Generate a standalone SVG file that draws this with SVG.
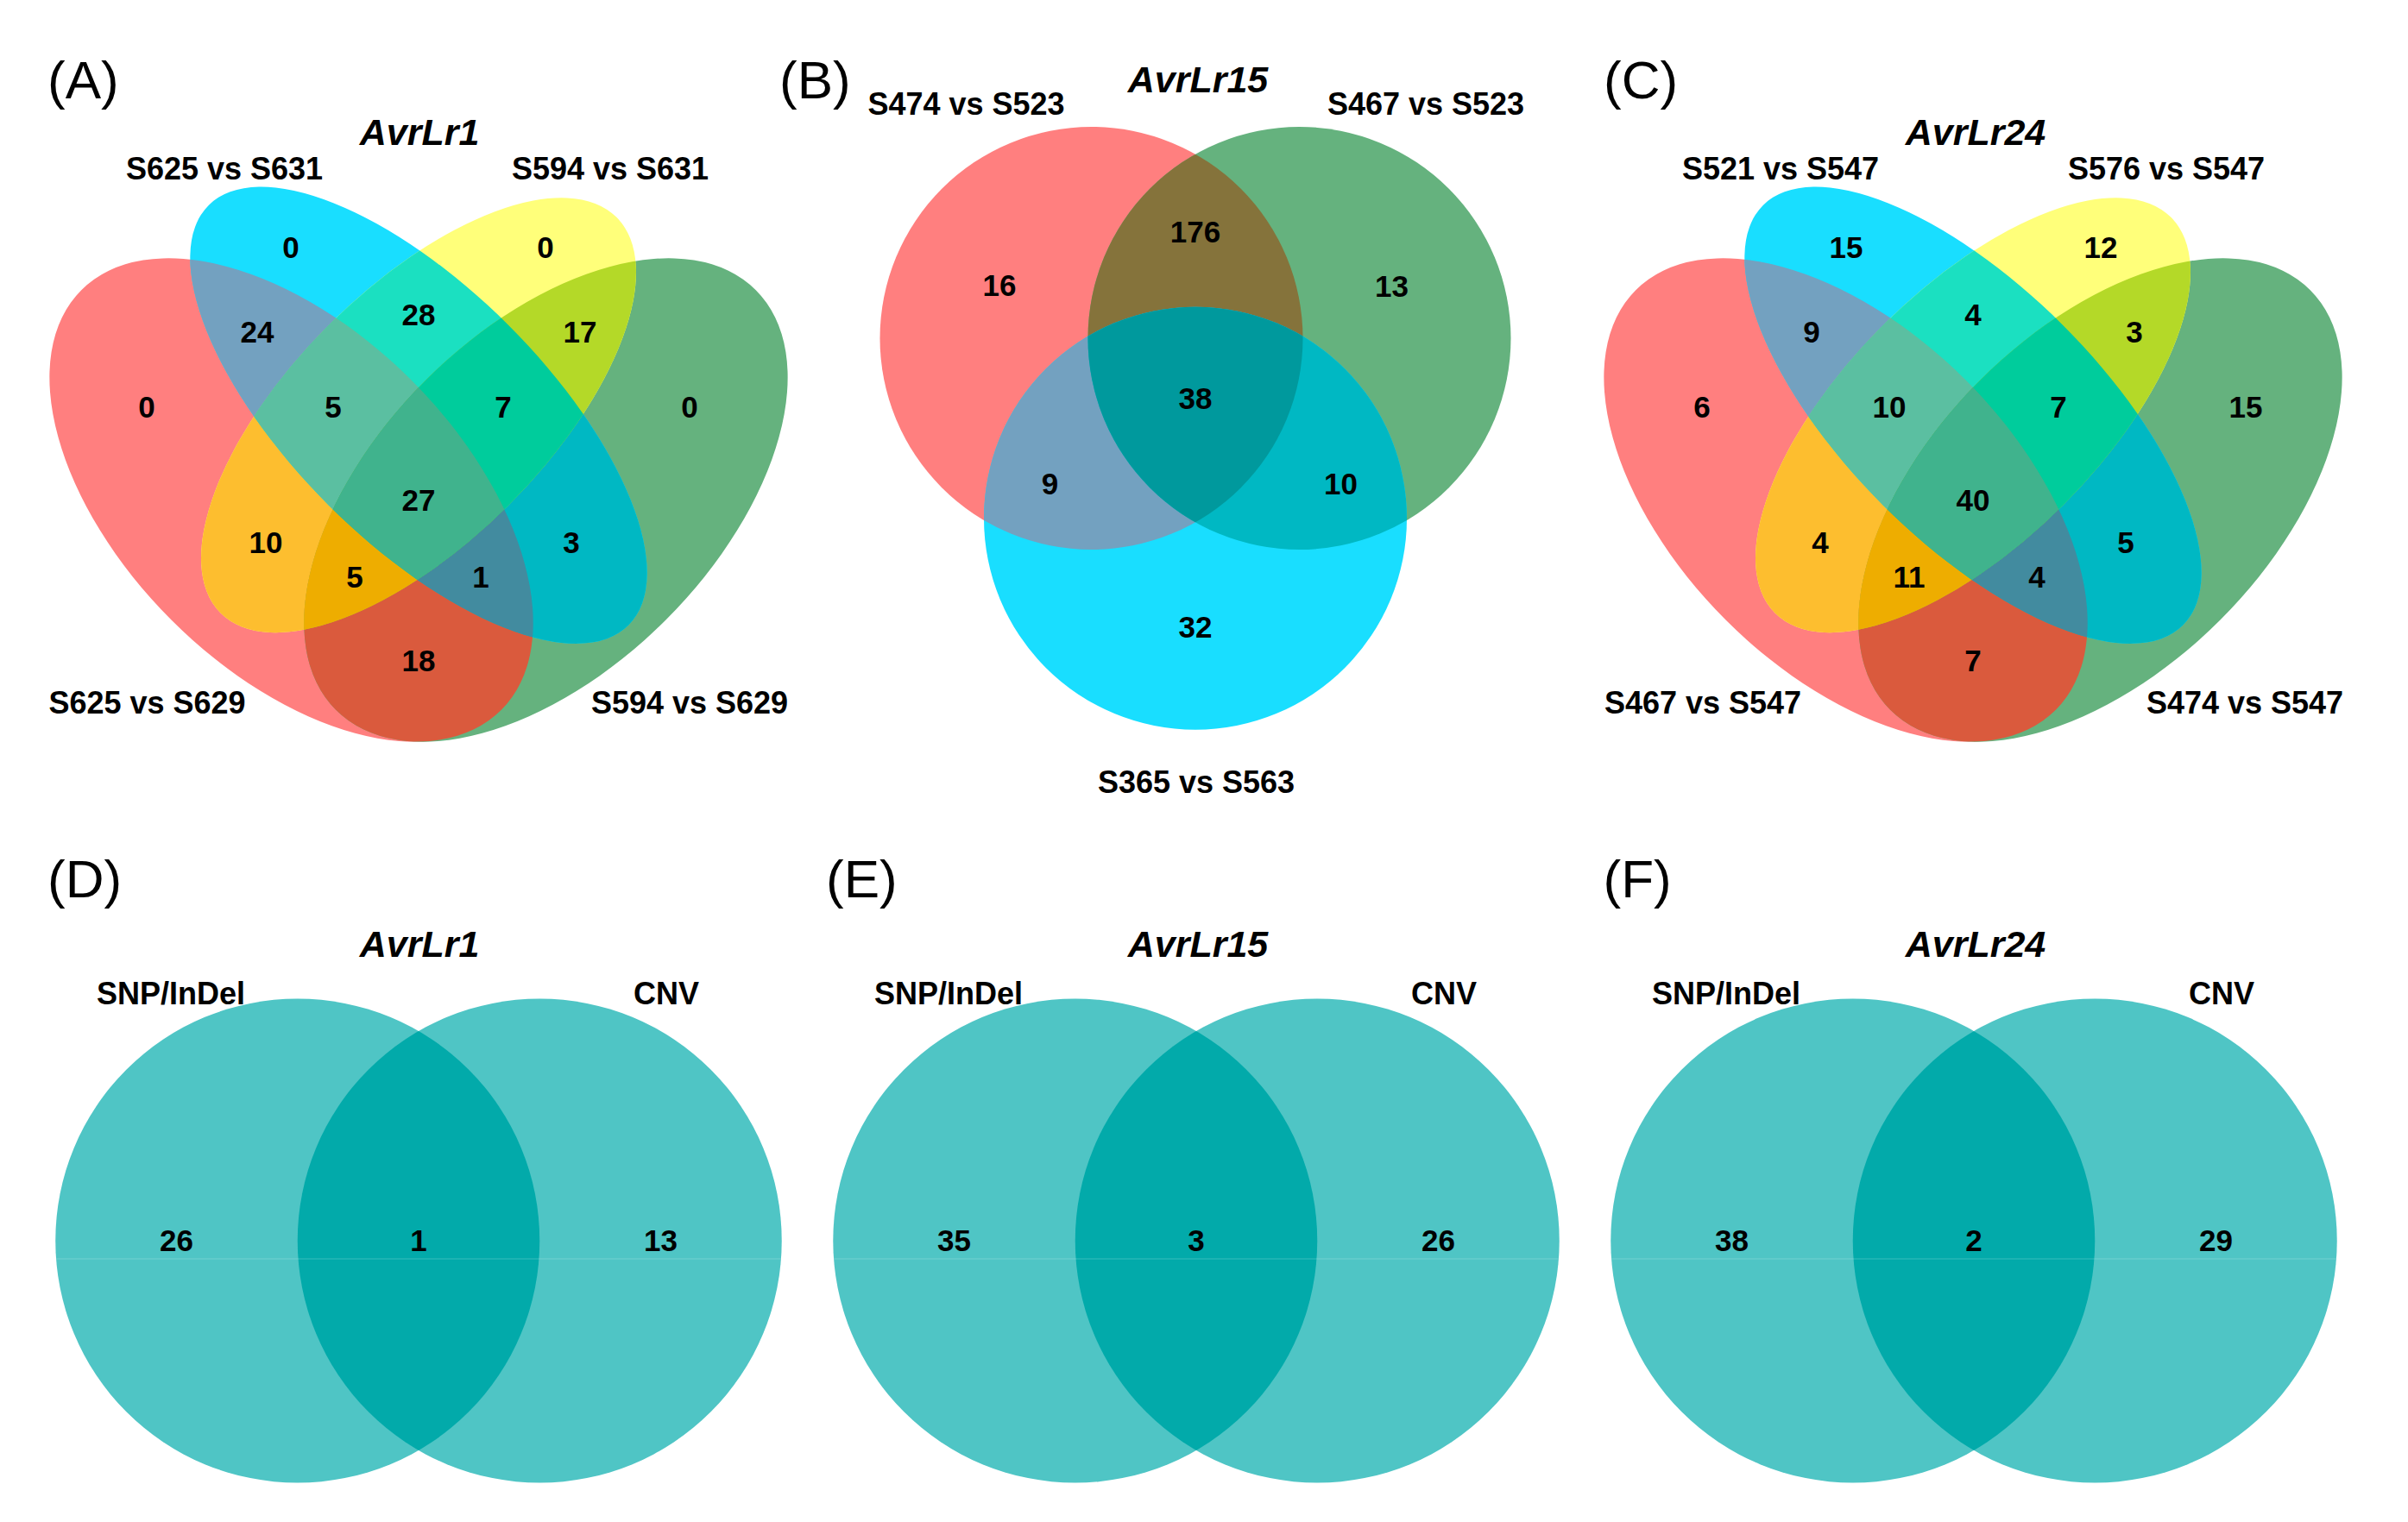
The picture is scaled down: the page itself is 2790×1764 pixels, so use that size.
<svg xmlns="http://www.w3.org/2000/svg" xmlns:xlink="http://www.w3.org/1999/xlink" width="2790" height="1764" viewBox="0 0 2790 1764">
<style>
  text { font-family: "Liberation Sans", Arial, Helvetica, sans-serif; fill: #000; }
  .pl { font-size: 62px; font-weight: normal; }
  .title { font-size: 43px; font-weight: bold; font-style: italic; text-anchor: middle; }
  .cat { font-size: 36px; font-weight: bold; text-anchor: middle; }
  .num { font-size: 35px; font-weight: bold; text-anchor: middle; }
  .seam { stroke: #ffffff; stroke-opacity: 0.14; stroke-width: 1.5; }
</style>
<defs>
  <!-- four-set ellipses (local coordinates, panel centre x = 0) -->
  <ellipse id="qR" cx="-147.45" cy="579.5" rx="344.05" ry="196.6" transform="rotate(45 -147.45 579.5)"/>
  <ellipse id="qG" cx="147.45" cy="579.5" rx="344.05" ry="196.6" transform="rotate(-45 147.45 579.5)"/>
  <ellipse id="qB" cx="0" cy="481.2" rx="344.05" ry="147.45" transform="rotate(45 0 481.2)"/>
  <ellipse id="qY" cx="0" cy="481.2" rx="324.4" ry="147.45" transform="rotate(-45 0 481.2)"/>
  <clipPath id="cqR"><ellipse cx="-147.45" cy="579.5" rx="344.05" ry="196.6" transform="rotate(45 -147.45 579.5)"/></clipPath>
  <clipPath id="cqG"><ellipse cx="147.45" cy="579.5" rx="344.05" ry="196.6" transform="rotate(-45 147.45 579.5)"/></clipPath>
  <clipPath id="cqB"><ellipse cx="0" cy="481.2" rx="344.05" ry="147.45" transform="rotate(45 0 481.2)"/></clipPath>
  <clipPath id="cqY"><ellipse cx="0" cy="481.2" rx="324.4" ry="147.45" transform="rotate(-45 0 481.2)"/></clipPath>
  <!-- three-set circles (panel B, absolute) -->
  <circle id="tR" cx="1264.5" cy="392" r="245"/>
  <circle id="tG" cx="1505.5" cy="392" r="245"/>
  <circle id="tB" cx="1385" cy="600.7" r="245"/>
  <clipPath id="ctG"><circle cx="1505.5" cy="392" r="245"/></clipPath>
  <clipPath id="ctB"><circle cx="1385" cy="600.7" r="245"/></clipPath>
  <!-- two-set circles (local coordinates) -->
  <circle id="dL" cx="-140.25" cy="1438" r="280.5"/>
  <circle id="dR" cx="140.25" cy="1438" r="280.5"/>
  <clipPath id="cdR"><circle cx="140.25" cy="1438" r="280.5"/></clipPath>
</defs>
<rect width="2790" height="1764" fill="#ffffff"/>

<!-- Panel A -->
<g id="panelA">
  <text class="pl" x="55" y="114">(A)</text>
  <text class="title" x="486" y="168">AvrLr1</text>
  <g id="A-sets" transform="translate(485,0)">
    <use xlink:href="#qR" fill="#FF7F7F"/>
    <use xlink:href="#qG" fill="#65B27E"/>
    <use xlink:href="#qB" fill="#19DEFF"/>
    <use xlink:href="#qY" fill="#FFFF7A"/>
    <use xlink:href="#qR" clip-path="url(#cqB)" fill="#73A1C0"/>
    <use xlink:href="#qR" clip-path="url(#cqY)" fill="#FDBE2F"/>
    <use xlink:href="#qR" clip-path="url(#cqG)" fill="#DA5A3D"/>
    <use xlink:href="#qB" clip-path="url(#cqY)" fill="#1BE0C1"/>
    <use xlink:href="#qB" clip-path="url(#cqG)" fill="#00B8C3"/>
    <use xlink:href="#qY" clip-path="url(#cqG)" fill="#B4D928"/>
    <g clip-path="url(#cqY)"><use xlink:href="#qR" clip-path="url(#cqB)" fill="#5BBFA1"/></g>
    <g clip-path="url(#cqG)"><use xlink:href="#qR" clip-path="url(#cqB)" fill="#428B9F"/></g>
    <g clip-path="url(#cqG)"><use xlink:href="#qR" clip-path="url(#cqY)" fill="#EEAD00"/></g>
    <g clip-path="url(#cqG)"><use xlink:href="#qB" clip-path="url(#cqY)" fill="#00CC9C"/></g>
    <g clip-path="url(#cqG)"><g clip-path="url(#cqY)"><use xlink:href="#qR" clip-path="url(#cqB)" fill="#40B38D"/></g></g>
  </g>
  <g id="A-labels" transform="translate(485,0)">
    <text class="cat" x="-225" y="207.5">S625 vs S631</text>
    <text class="cat" x="222" y="207.5">S594 vs S631</text>
    <text class="cat" x="-314.5" y="827">S625 vs S629</text>
    <text class="cat" x="314" y="827">S594 vs S629</text>
    <text class="num" x="-148" y="298.5">0</text>
    <text class="num" x="147" y="298.5">0</text>
    <text class="num" x="-187" y="396.5">24</text>
    <text class="num" x="0" y="377">28</text>
    <text class="num" x="187" y="396.5">17</text>
    <text class="num" x="-315" y="483.5">0</text>
    <text class="num" x="-99" y="483.5">5</text>
    <text class="num" x="98" y="483.5">7</text>
    <text class="num" x="314" y="483.5">0</text>
    <text class="num" x="0" y="592">27</text>
    <text class="num" x="-177" y="641">10</text>
    <text class="num" x="177" y="641">3</text>
    <text class="num" x="-74" y="680.5">5</text>
    <text class="num" x="72" y="680.5">1</text>
    <text class="num" x="0" y="778">18</text>
  </g>
</g>

<!-- Panel B -->
<g id="panelB">
  <text class="pl" x="903" y="114">(B)</text>
  <text class="title" x="1388" y="106.5">AvrLr15</text>
  <g id="B-sets">
    <use xlink:href="#tR" fill="#FF7F7F"/>
    <use xlink:href="#tG" fill="#65B27E"/>
    <use xlink:href="#tB" fill="#19DEFF"/>
    <use xlink:href="#tR" clip-path="url(#ctG)" fill="#85733B"/>
    <use xlink:href="#tR" clip-path="url(#ctB)" fill="#73A1C0"/>
    <use xlink:href="#tG" clip-path="url(#ctB)" fill="#00B8C3"/>
    <g clip-path="url(#ctB)"><use xlink:href="#tR" clip-path="url(#ctG)" fill="#00999D"/></g>
  </g>
  <g id="B-labels">
    <text class="cat" x="1119.5" y="133">S474 vs S523</text>
    <text class="cat" x="1652" y="133">S467 vs S523</text>
    <text class="cat" x="1386" y="919">S365 vs S563</text>
    <text class="num" x="1158" y="342.5">16</text>
    <text class="num" x="1385" y="281">176</text>
    <text class="num" x="1612.5" y="343.5">13</text>
    <text class="num" x="1385" y="474">38</text>
    <text class="num" x="1216.5" y="572.5">9</text>
    <text class="num" x="1553.5" y="572.5">10</text>
    <text class="num" x="1385" y="738.5">32</text>
  </g>
</g>

<!-- Panel C -->
<g id="panelC">
  <text class="pl" x="1858" y="114">(C)</text>
  <text class="title" x="2289" y="168">AvrLr24</text>
  <g id="C-sets" transform="translate(2286,0)">
    <use xlink:href="#qR" fill="#FF7F7F"/>
    <use xlink:href="#qG" fill="#65B27E"/>
    <use xlink:href="#qB" fill="#19DEFF"/>
    <use xlink:href="#qY" fill="#FFFF7A"/>
    <use xlink:href="#qR" clip-path="url(#cqB)" fill="#73A1C0"/>
    <use xlink:href="#qR" clip-path="url(#cqY)" fill="#FDBE2F"/>
    <use xlink:href="#qR" clip-path="url(#cqG)" fill="#DA5A3D"/>
    <use xlink:href="#qB" clip-path="url(#cqY)" fill="#1BE0C1"/>
    <use xlink:href="#qB" clip-path="url(#cqG)" fill="#00B8C3"/>
    <use xlink:href="#qY" clip-path="url(#cqG)" fill="#B4D928"/>
    <g clip-path="url(#cqY)"><use xlink:href="#qR" clip-path="url(#cqB)" fill="#5BBFA1"/></g>
    <g clip-path="url(#cqG)"><use xlink:href="#qR" clip-path="url(#cqB)" fill="#428B9F"/></g>
    <g clip-path="url(#cqG)"><use xlink:href="#qR" clip-path="url(#cqY)" fill="#EEAD00"/></g>
    <g clip-path="url(#cqG)"><use xlink:href="#qB" clip-path="url(#cqY)" fill="#00CC9C"/></g>
    <g clip-path="url(#cqG)"><g clip-path="url(#cqY)"><use xlink:href="#qR" clip-path="url(#cqB)" fill="#40B38D"/></g></g>
  </g>
  <g id="C-labels" transform="translate(2286,0)">
    <text class="cat" x="-223" y="207.5">S521 vs S547</text>
    <text class="cat" x="224" y="207.5">S576 vs S547</text>
    <text class="cat" x="-313" y="827">S467 vs S547</text>
    <text class="cat" x="315" y="827">S474 vs S547</text>
    <text class="num" x="-147" y="298.5">15</text>
    <text class="num" x="148" y="298.5">12</text>
    <text class="num" x="-187" y="396.5">9</text>
    <text class="num" x="0" y="377">4</text>
    <text class="num" x="187" y="396.5">3</text>
    <text class="num" x="-314" y="483.5">6</text>
    <text class="num" x="-97" y="483.5">10</text>
    <text class="num" x="99" y="483.5">7</text>
    <text class="num" x="316" y="483.5">15</text>
    <text class="num" x="0" y="592">40</text>
    <text class="num" x="-177" y="641">4</text>
    <text class="num" x="177" y="641">5</text>
    <text class="num" x="-74" y="680.5">11</text>
    <text class="num" x="74" y="680.5">4</text>
    <text class="num" x="0" y="778">7</text>
  </g>
</g>

<!-- Panel D -->
<g id="panelD">
  <text class="pl" x="55" y="1040">(D)</text>
  <text class="title" x="486" y="1108.5">AvrLr1</text>
  <g id="D-sets" transform="translate(485,0)">
    <use xlink:href="#dL" fill="#4FC5C5"/>
    <use xlink:href="#dR" fill="#4FC5C5"/>
    <use xlink:href="#dL" clip-path="url(#cdR)" fill="#02AAAA"/>
    <line class="seam" x1="-419.5" y1="1459" x2="419.5" y2="1459"/>
  </g>
  <g id="D-labels" transform="translate(485,0)">
    <text class="cat" x="-287" y="1164">SNP/InDel</text>
    <text class="cat" x="287" y="1164">CNV</text>
    <text class="num" x="-280.5" y="1449.5">26</text>
    <text class="num" x="0" y="1449.5">1</text>
    <text class="num" x="280.5" y="1449.5">13</text>
  </g>
</g>

<!-- Panel E -->
<g id="panelE">
  <text class="pl" x="957" y="1040">(E)</text>
  <text class="title" x="1388" y="1108.5">AvrLr15</text>
  <g id="E-sets" transform="translate(1386,0)">
    <use xlink:href="#dL" fill="#4FC5C5"/>
    <use xlink:href="#dR" fill="#4FC5C5"/>
    <use xlink:href="#dL" clip-path="url(#cdR)" fill="#02AAAA"/>
    <line class="seam" x1="-419.5" y1="1459" x2="419.5" y2="1459"/>
  </g>
  <g id="E-labels" transform="translate(1386,0)">
    <text class="cat" x="-287" y="1164">SNP/InDel</text>
    <text class="cat" x="287" y="1164">CNV</text>
    <text class="num" x="-280.5" y="1449.5">35</text>
    <text class="num" x="0" y="1449.5">3</text>
    <text class="num" x="280.5" y="1449.5">26</text>
  </g>
</g>

<!-- Panel F -->
<g id="panelF">
  <text class="pl" x="1857.5" y="1040">(F)</text>
  <text class="title" x="2289" y="1108.5">AvrLr24</text>
  <g id="F-sets" transform="translate(2287,0)">
    <use xlink:href="#dL" fill="#4FC5C5"/>
    <use xlink:href="#dR" fill="#4FC5C5"/>
    <use xlink:href="#dL" clip-path="url(#cdR)" fill="#02AAAA"/>
    <line class="seam" x1="-419.5" y1="1459" x2="419.5" y2="1459"/>
  </g>
  <g id="F-labels" transform="translate(2287,0)">
    <text class="cat" x="-287" y="1164">SNP/InDel</text>
    <text class="cat" x="287" y="1164">CNV</text>
    <text class="num" x="-280.5" y="1449.5">38</text>
    <text class="num" x="0" y="1449.5">2</text>
    <text class="num" x="280.5" y="1449.5">29</text>
  </g>
</g>
</svg>
